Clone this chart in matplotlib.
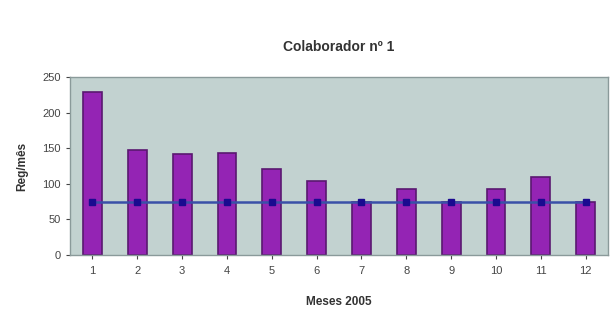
import matplotlib
matplotlib.use("Agg")
import matplotlib.pyplot as plt
import numpy as np

months = ["1", "2", "3", "4", "5", "6", "7", "8", "9", "10", "11", "12"]
registros = [229, 148, 142, 143, 121, 104, 75, 92, 75, 92, 109, 75]
media = [74] * 12
yticks = [0, 50, 100, 150, 200, 250]

plt.rcParams['font.family'] = ['Liberation Sans', 'DejaVu Sans']

fig = plt.figure(figsize=(6.11, 3.15), dpi=100)
ax = fig.add_axes([0.1146, 0.1905, 0.8805, 0.565])
ax.set_facecolor('#c2d2d0')

x = np.arange(len(months))
ax.bar(x, registros, width=0.42, color='#9424b4', edgecolor='#5a1870', linewidth=1.2, zorder=2)
ax.plot(x, media, color='#3a50a8', linewidth=1.8, marker='s', markersize=4,
        markerfacecolor='#1a0a90', markeredgecolor='#1a0a90', zorder=3)

ax.set_xlim(-0.5, len(months) - 0.5)
ax.set_ylim(0, 250)
ax.set_yticks(yticks)
ax.set_xticks(x)
ax.set_xticklabels(months)
ax.tick_params(axis='both', labelsize=8, colors='#444444', length=3, width=0.8)
ax.tick_params(axis='x', pad=5)
for s in ax.spines.values():
    s.set_color('#8a9a9a')
    s.set_linewidth(1)

ax.set_title('Colaborador nº 1', fontsize=10, fontweight='bold', color='#333333', pad=19)
ax.set_xlabel('Meses 2005', fontsize=8.5, fontweight='bold', color='#333333', labelpad=14)
ax.set_ylabel('Reg/mês', fontsize=8.5, fontweight='bold', color='#333333', labelpad=10)

fig.savefig('out.png', dpi=100)
